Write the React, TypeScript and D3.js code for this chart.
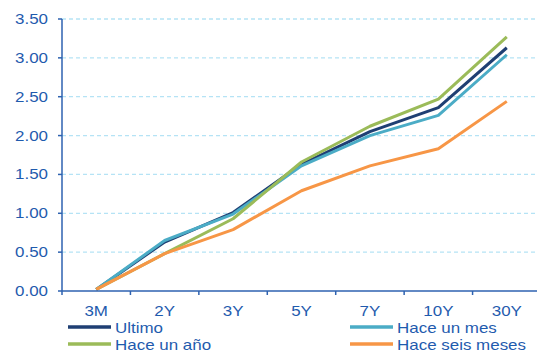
import React from "react";
import * as d3 from "d3";

const categories = ["3M", "2Y", "3Y", "5Y", "7Y", "10Y", "30Y"];
const ultimo = [0.02, 0.63, 1.01, 1.63, 2.05, 2.36, 3.13];
const haceUnMes = [0.02, 0.65, 0.99, 1.61, 2.0, 2.26, 3.04];
const haceUnAno = [0.02, 0.48, 0.93, 1.66, 2.12, 2.47, 3.27];
const haceSeisMeses = [0.02, 0.48, 0.79, 1.29, 1.61, 1.83, 2.44];
const yTicks = [0, 0.5, 1, 1.5, 2, 2.5, 3, 3.5];

const series = [
  { name: "Ultimo", values: ultimo, color: "#1F3F73" },
  { name: "Hace un mes", values: haceUnMes, color: "#4BACC6" },
  { name: "Hace un año", values: haceUnAno, color: "#9BBB59" },
  { name: "Hace seis meses", values: haceSeisMeses, color: "#F79646" },
];

const W = 537, H = 354;
const left = 62, right = 541, top = 19, bottom = 291;
const textColor = "#1F5BAE";
const axisColor = "#2E62B0";
const font = "Liberation Sans, Arial, sans-serif";

export default function App() {
  const x = d3.scaleBand().domain(categories).range([left, right]);
  const y = d3.scaleLinear().domain([0, 3.5]).range([bottom, top]);
  const line = d3.line<number>()
    .x((_, i) => (x(categories[i]) as number) + x.bandwidth() / 2)
    .y((d) => y(d));
  const sx = 1.13;
  const legend = [
    { s: series[0], lx: 68, ly: 328 },
    { s: series[1], lx: 350, ly: 328 },
    { s: series[2], lx: 68, ly: 345 },
    { s: series[3], lx: 350, ly: 345 },
  ];
  return (
    <svg width={W} height={H} style={{ position: "absolute", left: 0, top: 0 }}>
      <rect width={W} height={H} fill="#fff" />
      {yTicks.slice(1).map((t) => (
        <line key={t} x1={left} x2={right} y1={y(t)} y2={y(t)} stroke="#B5E3F5" strokeWidth={1.3} strokeDasharray="4,3" />
      ))}
      {series.map((s) => (
        <path key={s.name} d={line(s.values) as string} fill="none" stroke={s.color} strokeWidth={3} strokeLinejoin="round" />
      ))}
      <line x1={left} x2={left} y1={top} y2={bottom} stroke={axisColor} strokeWidth={1.5} />
      <line x1={left} x2={right} y1={bottom} y2={bottom} stroke={axisColor} strokeWidth={1.5} />
      {yTicks.map((t) => (
        <g key={t}>
          <line x1={left - 4} x2={left} y1={y(t)} y2={y(t)} stroke={axisColor} strokeWidth={1.5} />
          <text transform={`translate(48,${y(t) + 5}) scale(${sx},1)`} textAnchor="end" fontFamily={font} fontSize={15} fill={textColor}>
            {t.toFixed(2)}
          </text>
        </g>
      ))}
      {categories.map((c) => (
        <g key={c}>
          <line x1={x(c) as number} x2={x(c) as number} y1={bottom} y2={bottom + 4} stroke={axisColor} strokeWidth={1.5} />
          <text transform={`translate(${(x(c) as number) + x.bandwidth() / 2},${bottom + 25}) scale(${sx},1)`} textAnchor="middle" fontFamily={font} fontSize={15} fill={textColor}>
            {c}
          </text>
        </g>
      ))}
      {legend.map(({ s, lx, ly }) => (
        <g key={s.name}>
          <line x1={lx} x2={lx + 43} y1={ly - 1} y2={ly - 1} stroke={s.color} strokeWidth={3.5} />
          <text transform={`translate(${lx + 47},${ly + 5}) scale(${sx},1)`} fontFamily={font} fontSize={15} fill={textColor}>
            {s.name}
          </text>
        </g>
      ))}
    </svg>
  );
}
